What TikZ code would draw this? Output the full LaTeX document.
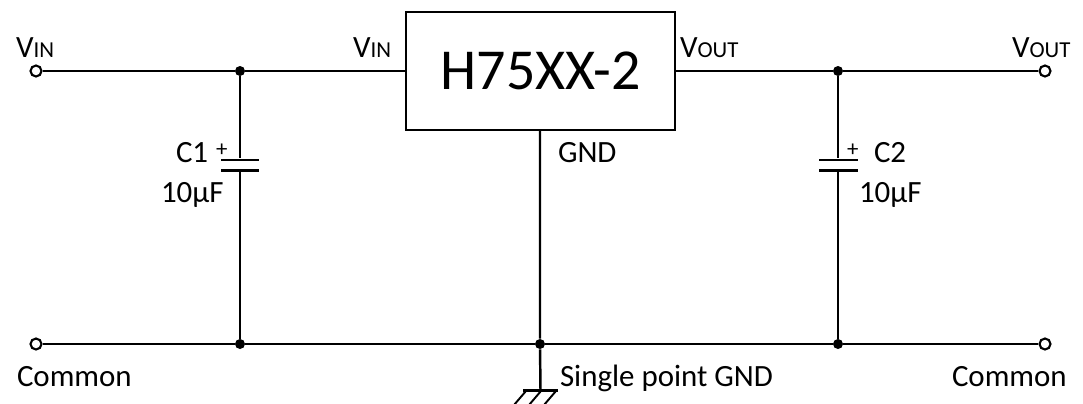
\documentclass[tikz,border=0pt]{standalone}
\usepackage{fontspec}
\setmainfont{Carlito}
\newcommand{\pinname}[2]{#1{\fontsize{13}{13}\selectfont #2}}
\tikzset{
  wire/.style={line width=1.4pt},
  lbl/.style={inner sep=0pt,outer sep=0pt,anchor=base west,font=\fontsize{17.6}{18}\selectfont},
  terminal/.style={circle,draw,fill=white,line width=1.2pt,inner sep=0pt,minimum size=0.22cm},
  junction/.style={circle,fill=black,inner sep=0pt,minimum size=0.2cm},
  plate/.style={fill=black,inner sep=0pt,minimum width=0.78cm,minimum height=1.4pt},
  gndbar/.style={fill=black,inner sep=0pt,minimum width=0.7cm,minimum height=1.4pt}
}
\begin{document}
\begin{tikzpicture}[x=0.02cm,y=-0.02cm]
          \useasboundingbox (0,0) rectangle (1083,403);
          % regulator
          \node[draw,wire,inner sep=0pt,minimum width=5.38cm,minimum height=2.36cm,font=\fontsize{33}{34}\selectfont] (reg) at (540.5,71) {H75XX-2};
          % terminals
          \node[terminal] (vinpin) at (36,71) {};
          \node[terminal] (voutpin) at (1045,71) {};
          \node[terminal] (comleft) at (36,344) {};
          \node[terminal] (comright) at (1045,344) {};
          % junctions
          \node[junction] (jinc) at (240,71) {};
          \node[junction] (joutc) at (838,71) {};
          \node[junction] (jcomc1) at (240,344) {};
          \node[junction] (jcomreg) at (540,344) {};
          \node[junction] (jcomc2) at (838,344) {};
          % capacitor plates
          \node[plate] (c1top) at (240,160) {};
          \node[plate] (c1bot) at (240,170.5) {};
          \node[plate] (c2top) at (838,160) {};
          \node[plate] (c2bot) at (838,170.5) {};
          % ground symbol
          \node[gndbar] (gnd) at (540.5,390.5) {};
          \coordinate (h1a) at (526,391);
          \coordinate (h1b) at (514,405);
          \coordinate (h2a) at (541,391);
          \coordinate (h2b) at (529,405);
          \coordinate (h3a) at (556,391);
          \coordinate (h3b) at (544,405);
          % top rail
          \draw[wire] (vinpin) -- (jinc) -- (reg.west |- jinc);
          \draw[wire] (reg.east |- joutc) -- (joutc) -- (voutpin);
          % bottom rail
          \draw[wire] (comleft) -- (jcomc1) -- (jcomreg) -- (jcomc2) -- (comright);
          % capacitor legs
          \draw[wire] (jinc) -- (c1top);
          \draw[wire] (c1bot) -- (jcomc1);
          \draw[wire] (joutc) -- (c2top);
          \draw[wire] (c2bot) -- (jcomc2);
          % regulator ground
          \draw[wire] (reg.south -| jcomreg) -- (jcomreg) -- (gnd);
          \foreach \i in {1,2,3} {
            \draw[line width=1.1pt] (h\i a) -- (h\i b);
          }
          % pin labels
          \node[lbl] (vinleft) at (16,57) {\pinname{V}{IN}};
          \node[lbl] (vinreg) at (353,57) {\pinname{V}{IN}};
          \node[lbl] (voutreg) at (680,57) {\pinname{V}{OUT}};
          \node[lbl] (voutright) at (1012,57) {\pinname{V}{OUT}};
          \node[lbl] (gndlbl) at (558,162) {GND};
          % capacitor labels
          \node[lbl] (c1name) at (176,162) {C1};
          \node[lbl] (c1plus) at (216,156) {\fontsize{13}{13}\selectfont +};
          \node[lbl] (c1val) at (161,202) {10µF};
          \node[lbl] (c2name) at (874,162) {C2};
          \node[lbl] (c2plus) at (847,156) {\fontsize{13}{13}\selectfont +};
          \node[lbl] (c2val) at (859,202) {10µF};
          % bottom labels
          \node[lbl] (comlblleft) at (17,386) {Common};
          \node[lbl] (comlblright) at (952,386) {Common};
          \node[lbl] (gndpoint) at (560,386) {Single point GND};
        \end{tikzpicture}
\end{document}
